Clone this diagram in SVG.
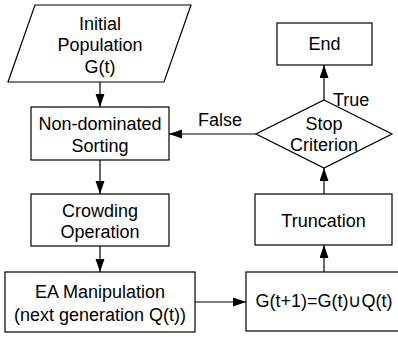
<svg xmlns="http://www.w3.org/2000/svg" width="398" height="337" viewBox="0 0 398 337">
<defs>
<style>
.s{fill:#fff;stroke:#000;stroke-width:1.2}
.t{font-family:"Liberation Sans",Arial,sans-serif;font-size:18px;fill:#000;text-anchor:middle}
.c{fill:none;stroke:#000;stroke-width:1.2}
</style>
<marker id="a" markerUnits="userSpaceOnUse" markerWidth="14" markerHeight="10" refX="13" refY="4.5" orient="auto">
<path d="M0,0 L13,4.5 L0,9 z" fill="#000"/>
</marker>
</defs>
<rect width="398" height="337" fill="#fff"/>
<g id="connectors">
<line class="c" x1="100" y1="82" x2="100" y2="107" marker-end="url(#a)"/>
<line class="c" x1="100" y1="160" x2="100" y2="194" marker-end="url(#a)"/>
<line class="c" x1="100" y1="246" x2="100" y2="272" marker-end="url(#a)"/>
<line class="c" x1="195" y1="302" x2="246" y2="302" marker-end="url(#a)"/>
<line class="c" x1="324" y1="272" x2="324" y2="245" marker-end="url(#a)"/>
<line class="c" x1="324" y1="194" x2="324" y2="168" marker-end="url(#a)"/>
<line class="c" x1="324" y1="100" x2="324" y2="65" marker-end="url(#a)"/>
<line class="c" x1="256" y1="134" x2="169" y2="134" marker-end="url(#a)"/>
<text class="t" x="220" y="126">False</text>
<text class="t" x="333" y="106" style="text-anchor:start">True</text>
</g>
<g id="initial">
<polygon class="s" points="35,5 191,5 164,82 8,82"/>
<text class="t" x="100" y="30">Initial</text>
<text class="t" x="100" y="51">Population</text>
<text class="t" x="100" y="72.5">G(t)</text>
</g>
<g id="sorting">
<rect class="s" x="31" y="107" width="138" height="53"/>
<text class="t" x="100" y="129.5">Non-dominated</text>
<text class="t" x="100" y="151.5">Sorting</text>
</g>
<g id="crowding">
<rect class="s" x="31" y="194" width="138" height="52"/>
<text class="t" x="100" y="216.5">Crowding</text>
<text class="t" x="100" y="238">Operation</text>
</g>
<g id="ea">
<rect class="s" x="5" y="272" width="190" height="60"/>
<text class="t" x="100" y="298">EA Manipulation</text>
<text class="t" x="100" y="320.5">(next generation Q(t))</text>
</g>
<g id="union">
<rect class="s" x="246" y="272" width="156" height="59"/>
<text class="t" x="324" y="307">G(t+1)=G(t)∪Q(t)</text>
</g>
<g id="truncation">
<rect class="s" x="255" y="194" width="137" height="51"/>
<text class="t" x="323.5" y="226.5">Truncation</text>
</g>
<g id="stop">
<polygon class="s" points="324,100 392,134 324,168 256,134"/>
<text class="t" x="324" y="130">Stop</text>
<text class="t" x="324" y="150.5">Criterion</text>
</g>
<g id="end">
<rect class="s" x="277" y="23" width="95" height="42"/>
<text class="t" x="324.5" y="50">End</text>
</g>
</svg>
